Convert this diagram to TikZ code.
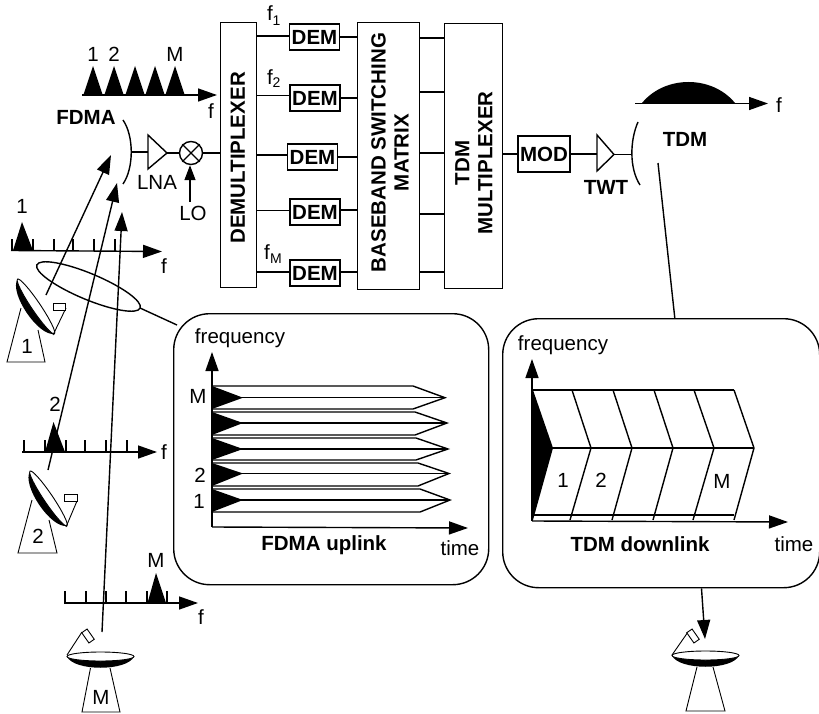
\documentclass[tikz,border=0pt]{standalone}
\usepackage{fontspec}
\setmainfont{Liberation Sans}
\usetikzlibrary{arrows.meta}
\newcommand{\dishbody}[2]{% half length, minor radius
  \fill[black] (-#1pt,0pt) .. controls (-0.8*#1pt,-15pt) and (0.8*#1pt,-15pt) .. (#1pt,0pt) -- cycle;
  \draw[thinline,fill=white] (0pt,0pt) ellipse [x radius=#1pt,y radius=#2pt];
}
\tikzset{
  x=1pt,y=-1pt,
  line/.style={line width=1.4pt,black},
  thinline/.style={line width=0.9pt,black},
  arrowline/.style={line width=1.4pt,black,-{Triangle[length=19pt,width=13pt]}},
  smallarrow/.style={line width=1.4pt,black,-{Triangle[length=15pt,width=11pt]}},
  lab/.style={inner sep=0pt,font=\fontsize{20.5}{22}\selectfont},
  blab/.style={inner sep=0pt,font=\fontsize{20.5}{23}\selectfont\bfseries,align=center},
  rotlab/.style={blab,rotate=90},
  block/.style={draw,line width=1.4pt,inner sep=0pt,anchor=north west},
  demod/.style={draw,line width=1.6pt,inner sep=0pt,minimum width=50pt,minimum height=26pt,font=\fontsize{20.5}{22}\selectfont\bfseries},
  panel/.style={draw,line width=1.4pt,rounded corners=36pt,inner sep=0pt,anchor=north west},
  feed/.style={draw,thinline,fill=white,inner sep=0pt,minimum width=12.5pt,minimum height=6.5pt},
}
\begin{document}
\begin{tikzpicture}
\useasboundingbox (0,0) rectangle (819,714);
% ---- processing chain
\node[block,minimum width=36pt,minimum height=265pt] (demux) at (220,22) {};
\node[rotlab] (demuxl) at (238,158) {DEMULTIPLEXER};
\node[block,minimum width=62pt,minimum height=267pt] (matrix) at (357,22) {};
\node[rotlab] (matl) at (390,152.5) {BASEBAND SWITCHING\\MATRIX};
\node[block,minimum width=58pt,minimum height=265pt] (tdmx) at (444,23) {};
\node[rotlab] (tdml) at (474,163) {TDM\\MULTIPLEXER};
\node[demod] (d1) at (314.5,37) {DEM};
\node[demod] (d2) at (315,98) {DEM};
\node[demod] (d3) at (312.5,157) {DEM};
\node[demod] (d4) at (315,212) {DEM};
\node[demod] (d5) at (315,273) {DEM};
\foreach \n/\yl/\yr in {d1/36/37,d2/95.5/98,d3/155/157,d4/210.5/210,d5/272/272}{
  \draw[line] (256,\yl) -- (\n.west |- 0,\yl);
  \draw[line] (\n.east |- 0,\yr) -- (357,\yr);
}
\foreach \y in {38,92,153,214,272}{\draw[line] (419,\y) -- (444,\y);}
\node[lab] (f1) at (270,13) {f};
\node[inner sep=0pt,font=\fontsize{14}{15}\selectfont] (f1s) at (276.5,21) {1};
\node[lab] (f2) at (270,77) {f};
\node[inner sep=0pt,font=\fontsize{14}{15}\selectfont] (f2s) at (276.5,83) {2};
\node[lab] (fm) at (267,252) {f};
\node[inner sep=0pt,font=\fontsize{14}{15}\selectfont] (fms) at (276,259) {M};
% MOD, TWT, downlink antenna
\node[draw,line width=1.4pt,inner sep=0pt,minimum width=52pt,minimum height=36pt,font=\fontsize{20.5}{22}\selectfont\bfseries] (mod) at (544,154) {MOD};
\draw[line] (tdmx.east |- mod) -- (mod.west);
\coordinate (twtin) at (597,154);
\coordinate (twtout) at (614,154.5);
\coordinate (dlfeed) at (632,154.5);
\draw[line] (mod.east) -- (twtin);
\draw[line] (597,135) -- (twtout) -- (597,171) -- cycle;
\draw[line] (twtout) -- (dlfeed);
\draw[line] (638,122) .. controls (630,140) and (629,168) .. (640,185);
\node[blab] (twt) at (606,187) {TWT};
\node[blab] (tdm) at (685,139) {TDM};
\fill[black] (642,103) .. controls (665,75) and (712,75) .. (735,103) -- cycle;
\coordinate (dla) at (635,103.5);
\coordinate (dlb) at (768,103.5);
\draw[arrowline] (dla) -- (dlb);
\node[lab] (fd) at (779,105) {f};
% uplink antenna, LNA, mixer
\node[blab] (fdma) at (86,117) {FDMA};
\draw[line] (123,120) .. controls (134,136) and (134,168) .. (123,184);
\coordinate (ulfeed) at (131.5,152);
\coordinate (lnain) at (148,152);
\coordinate (lnaout) at (167,153);
\draw[line] (ulfeed) -- (lnain);
\draw[line] (148,135) -- (lnaout) -- (148,169) -- cycle;
\node[draw,line width=1.4pt,circle,minimum size=23pt,inner sep=0pt] (mix) at (191,153) {};
\draw[line] (mix.north west) -- (mix.south east);
\draw[line] (mix.north east) -- (mix.south west);
\draw[line] (lnaout) -- (mix.west);
\draw[line] (mix.east) -- (demux.west |- mix);
\node[lab] (lna) at (157,182) {LNA};
\node[lab] (lo) at (193,213) {LO};
\coordinate (lofree) at (190,202);
\draw[smallarrow] (lofree) -- (mix.south -| lofree);
% composite uplink spectrum
\foreach \x in {93,114,135,155,175}{\fill[black] (\x-9.5,94.5) -- (\x,66) -- (\x+9.5,94.5) -- cycle;}
\coordinate (spa) at (82,95);
\coordinate (spb) at (217,95);
\draw[arrowline] (spa) -- (spb);
\node[lab] (n1) at (93,54) {1};
\node[lab] (n2) at (114,54) {2};
\node[lab] (nM) at (175,54) {M};
\node[lab] (ftop) at (211,111) {f};
% spectrum 1
\foreach \x in {12,33,54,73,94,115}{\draw[line] (\x,250.5) -- (\x,239);}
\fill[black] (13,250.5) -- (22,222) -- (33,250.5) -- cycle;
\coordinate (s1a) at (11,250.5);
\coordinate (s1b) at (162,251.5);
\draw[arrowline] (s1a) -- (s1b);
\node[lab] (l1) at (22,206) {1};
\node[lab] (fs1) at (164,266) {f};
% spectrum 2
\foreach \x in {24,45,66,85,106,127}{\draw[line] (\x,452) -- (\x,440);}
\fill[black] (45,452) -- (53.5,422) -- (65,452) -- cycle;
\coordinate (s2a) at (22,452);
\coordinate (s2b) at (157,452);
\draw[arrowline] (s2a) -- (s2b);
\node[lab] (l2) at (55,404) {2};
\node[lab] (fs2) at (164,452) {f};
% spectrum M
\foreach \x in {65,86,106,126,147,167}{\draw[line] (\x,603) -- (\x,591);}
\fill[black] (147.5,603) -- (156,573) -- (166,603) -- cycle;
\coordinate (s3a) at (64,603);
\coordinate (s3b) at (198,603);
\draw[arrowline] (s3a) -- (s3b);
\node[lab] (lM) at (156,560) {M};
\node[lab] (fs3) at (201,617) {f};
% beams
\coordinate (b1a) at (46,295); \coordinate (b1b) at (111,155);
\coordinate (b2a) at (48,470); \coordinate (b2b) at (117,183);
\coordinate (b3a) at (102,632); \coordinate (b3b) at (122,212);
\draw[arrowline] (b1a) -- (b1b);
\draw[arrowline] (b2a) -- (b2b);
\draw[arrowline] (b3a) -- (b3b);
\draw[line] (88.5,286.5) [rotate around={-22.7:(88.5,286.5)}] ellipse [x radius=56pt,y radius=13pt];
% uplink panel
\node[panel,minimum width=315pt,minimum height=271pt] (up) at (173,313) {};
\coordinate (ell) at (140,308);
\coordinate (upjoin) at (177,325);
\draw[line] (ell) -- (upjoin);
\foreach \t/\m/\b/\c/\e in {386/397.7/409/413/445, 412/423/435/415/447, 438/449/460/416/448, 463/473.5/486/418/449, 489/500/512/420/450}{
  \fill[black] (212,\t) -- (243,\m) -- (212,\b) -- cycle;
  \draw[line] (212,\t) -- (\c,\t) -- (\e,\m) -- (\c,\b) -- (212,\b);
  \draw[line] (212,\m) -- (\e,\m);
}
\coordinate (ua) at (212,527);
\coordinate (ub) at (212,352);
\coordinate (uc) at (468,528);
\draw[arrowline] (ua) -- (ub);
\draw[arrowline] (ua) -- (uc);
\node[lab] (ufreq) at (240,338) {frequency};
\node[blab] (utitle) at (324,545) {FDMA uplink};
\node[lab] (utime) at (460,548) {time};
\node[lab] (uM) at (198,396) {M};
\node[lab] (u2) at (200,475) {2};
\node[lab] (u1) at (199,501) {1};
% downlink panel
\node[panel,minimum width=317pt,minimum height=269pt] (down) at (502,318) {};
\coordinate (tdmfree) at (658,163);
\draw[line] (tdmfree) -- (down.north -| 674.8,0);
\coordinate (dnout) at (701.5,587);
\coordinate (dntip) at (705,639);
\draw[arrowline] (down.south -| dnout) -- (dntip);
\fill[black] (533,390) -- (553,448) -- (533,520) -- cycle;
\draw[line] (533,390) -- (734,390);
\draw[line] (533,448) -- (754,448);
\draw[line] (533,515) -- (734,515);
\foreach \xa/\xb/\xc in {572/591/570,613/632/612,654/673/653,694/714/693,734/754/734}{
  \draw[line] (\xa,390) -- (\xb,448) -- (\xc,520);
}
\coordinate (da) at (532,521);
\coordinate (db) at (532,359);
\coordinate (dc) at (788,522);
\draw[arrowline] (da) -- (db);
\draw[arrowline] (da) -- (dc);
\node[lab] (dfreq) at (563,345) {frequency};
\node[blab] (dtitle) at (640,544) {TDM downlink};
\node[lab] (dtime) at (794,544) {time};
\node[lab] (d1l) at (563,480) {1};
\node[lab] (d2l) at (601,480) {2};
\node[lab] (dMl) at (722,481) {M};
% dish 1
\draw[thinline] (21,308) -- (7,362) -- (45,362) -- (38,330);
\begin{scope}[shift={(36,306.5)},rotate=-56]\dishbody{33}{4.5}\end{scope}
\draw[thinline] (53,335) -- (66,308);
\node[feed] (feed1) at (59.5,307) {};
\node[lab] (a1) at (27,346) {1};
% dish 2
\draw[thinline] (32,500) -- (18,553) -- (57,553) -- (49,520);
\begin{scope}[shift={(48.5,498.5)},rotate=-56]\dishbody{33}{4.5}\end{scope}
\draw[thinline] (66,527) -- (77,501);
\node[feed] (feed2) at (71,498) {};
\node[lab] (a2) at (38,536) {2};
% dish M
\draw[thinline] (90.5,668) -- (82,712) -- (120,712) -- (110,668);
\begin{scope}[shift={(100.5,656.5)}]\dishbody{33.5}{4.5}\end{scope}
\draw[thinline] (67,655) -- (82,632);
\node[feed,rotate=-55] (feed3) at (88,636) {};
\node[lab] (aM) at (101,697) {M};
% receiving dish
\draw[thinline] (697,667) -- (686,711) -- (725,711) -- (713,667);
\begin{scope}[shift={(705.5,655.5)}]\dishbody{33.5}{4.5}\end{scope}
\draw[thinline] (672,655) -- (688,632);
\node[feed,rotate=-55] (feed4) at (693,636) {};
\end{tikzpicture}
\end{document}
